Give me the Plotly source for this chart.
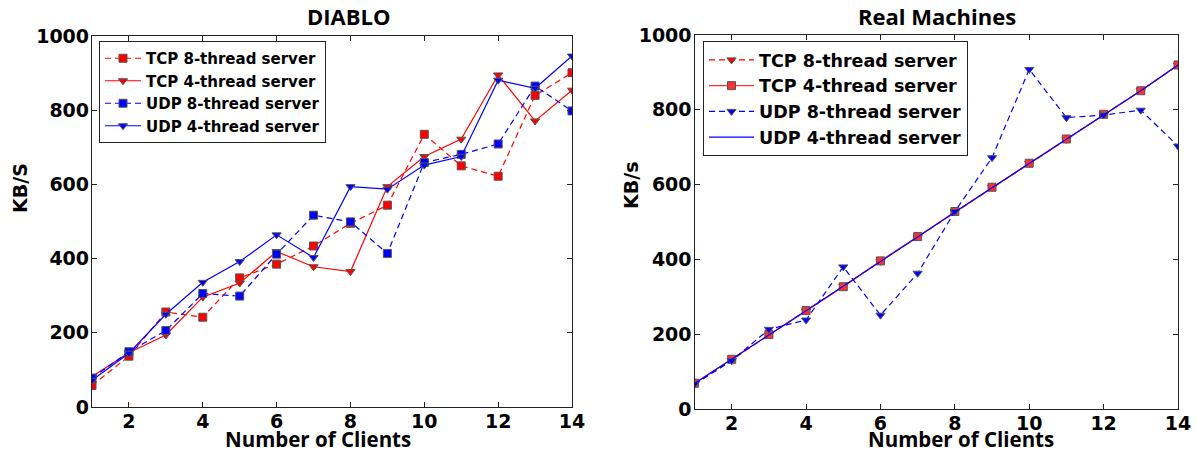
import plotly.graph_objects as go

clients = list(range(1, 15))

# DIABLO
d_tcp8 = [58, 137, 256, 242, 348, 385, 434, 495, 544, 735, 650, 622, 840, 901]
d_tcp4 = [82, 146, 194, 296, 334, 419, 378, 365, 594, 675, 722, 895, 771, 854]
d_udp8 = [78, 149, 206, 306, 299, 412, 517, 499, 414, 659, 681, 709, 865, 798]
d_udp4 = [72, 145, 250, 336, 392, 464, 403, 594, 587, 652, 675, 881, 859, 946]

# Real Machines
r_tcp8 = [67, 131, 198, 262, 328, 395, 460, 527, 592, 657, 721, 787, 851, 919]
r_tcp4 = [69, 133, 199, 263, 327, 396, 461, 528, 593, 657, 722, 788, 851, 920]
r_udp8 = [66, 129, 213, 238, 380, 251, 363, 528, 672, 908, 779, 786, 799, 703]
r_udp4 = [68, 132, 198, 263, 328, 395, 460, 527, 592, 657, 722, 788, 851, 920]

names = ["TCP 8-thread server", "TCP 4-thread server",
         "UDP 8-thread server", "UDP 4-thread server"]
yticks = [0, 200, 400, 600, 800, 1000]
xticks = [2, 4, 6, 8, 10, 12, 14]

W, H = 1199, 453
RED, BLUE, EDGE = "#ff0000", "#0000ff", "#555555"
DASH = "6px,4px"
TICKFONT = dict(family="DejaVu Sans", size=19, color="black", weight="bold")

fig = go.Figure()

def add(x, y, name, color, dash, symbol, xa, ya, legend, mode="lines+markers", size=8):
    fig.add_trace(go.Scatter(
        x=x, y=y, name=name, mode=mode, xaxis=xa, yaxis=ya, legend=legend,
        line=dict(color=color, width=1.2, dash=dash),
        marker=dict(symbol=symbol, size=size, color=color, line=dict(color=EDGE, width=1)),
    ))

add(clients, d_tcp8, names[0], RED, DASH, "square", "x", "y", "legend")
add(clients, d_tcp4, names[1], RED, "solid", "triangle-down", "x", "y", "legend")
add(clients, d_udp8, names[2], BLUE, DASH, "square", "x", "y", "legend")
add(clients, d_udp4, names[3], BLUE, "solid", "triangle-down", "x", "y", "legend")

add(clients, r_tcp8, names[0], RED, DASH, "triangle-down", "x2", "y2", "legend2")
add(clients, r_tcp4, names[1], "#ff3030", "solid", "square", "x2", "y2", "legend2")
add(clients, r_udp8, names[2], BLUE, DASH, "triangle-down", "x2", "y2", "legend2")
add(clients, r_udp4, names[3], BLUE, "solid", "circle", "x2", "y2", "legend2", mode="lines")

def px(x):
    return x / W

def py(y):
    return 1 - y / H

axis_common = dict(showline=True, linecolor="#222222", linewidth=1.3, mirror="ticks",
                   ticks="inside", ticklen=5, tickwidth=1, tickcolor="#222222",
                   showgrid=False, zeroline=False, tickfont=TICKFONT, fixedrange=True,
                   automargin=False)

fig.update_layout(
    template="none",
    width=W, height=H, margin=dict(l=0, r=0, t=0, b=0, pad=0, autoexpand=False),
    paper_bgcolor="white", plot_bgcolor="white",
    xaxis=dict(domain=[px(92), px(572)], range=[1, 14], tickvals=xticks, anchor="y",
               ticklabelstandoff=-3, **axis_common),
    yaxis=dict(domain=[py(407), py(36)], range=[0, 1000], tickvals=yticks, anchor="x",
               ticklabelstandoff=-2, **axis_common),
    xaxis2=dict(domain=[px(694.5), px(1178)], range=[1, 14], tickvals=xticks, anchor="y2",
                ticklabelstandoff=-3, **axis_common),
    yaxis2=dict(domain=[py(409), py(35)], range=[0, 1000], tickvals=yticks, anchor="x2",
                ticklabelstandoff=-2, **axis_common),
    legend=dict(x=px(99), y=py(41), xanchor="left", yanchor="top", bgcolor="white",
                bordercolor="#222222", borderwidth=1, itemwidth=36,
                font=dict(family="DejaVu Sans", size=15, color="black", weight="bold"),
                tracegroupgap=0),
    legend2=dict(x=px(703), y=py(41), xanchor="left", yanchor="top", bgcolor="white",
                 bordercolor="#222222", borderwidth=1, itemwidth=45,
                 font=dict(family="DejaVu Sans", size=17.5, color="black", weight="bold"),
                 tracegroupgap=0),
    showlegend=True,
)

TITLEFONT = dict(family="Open Sans", size=22, color="black", weight="bold")
LABFONT = dict(family="Open Sans", size=20.5, color="black", weight="bold")
YLABFONT = dict(family="DejaVu Sans", size=19, color="black", weight="bold")

annots = [
    dict(text="DIABLO", x=px(348), y=py(16), font=TITLEFONT),
    dict(text="Real Machines", x=px(937), y=py(16), font=TITLEFONT),
    dict(text="Number of Clients", x=px(318), y=py(439), font=LABFONT),
    dict(text="Number of Clients", x=px(961), y=py(439), font=LABFONT),
    dict(text="KB/S", x=px(20), y=py(188), font=YLABFONT, textangle=-90),
    dict(text="KB/s", x=px(631), y=py(186), font=YLABFONT, textangle=-90),
]
for a in annots:
    fig.add_annotation(xref="paper", yref="paper", xanchor="center", yanchor="middle",
                       showarrow=False, **a)

fig.write_html("out.html")
